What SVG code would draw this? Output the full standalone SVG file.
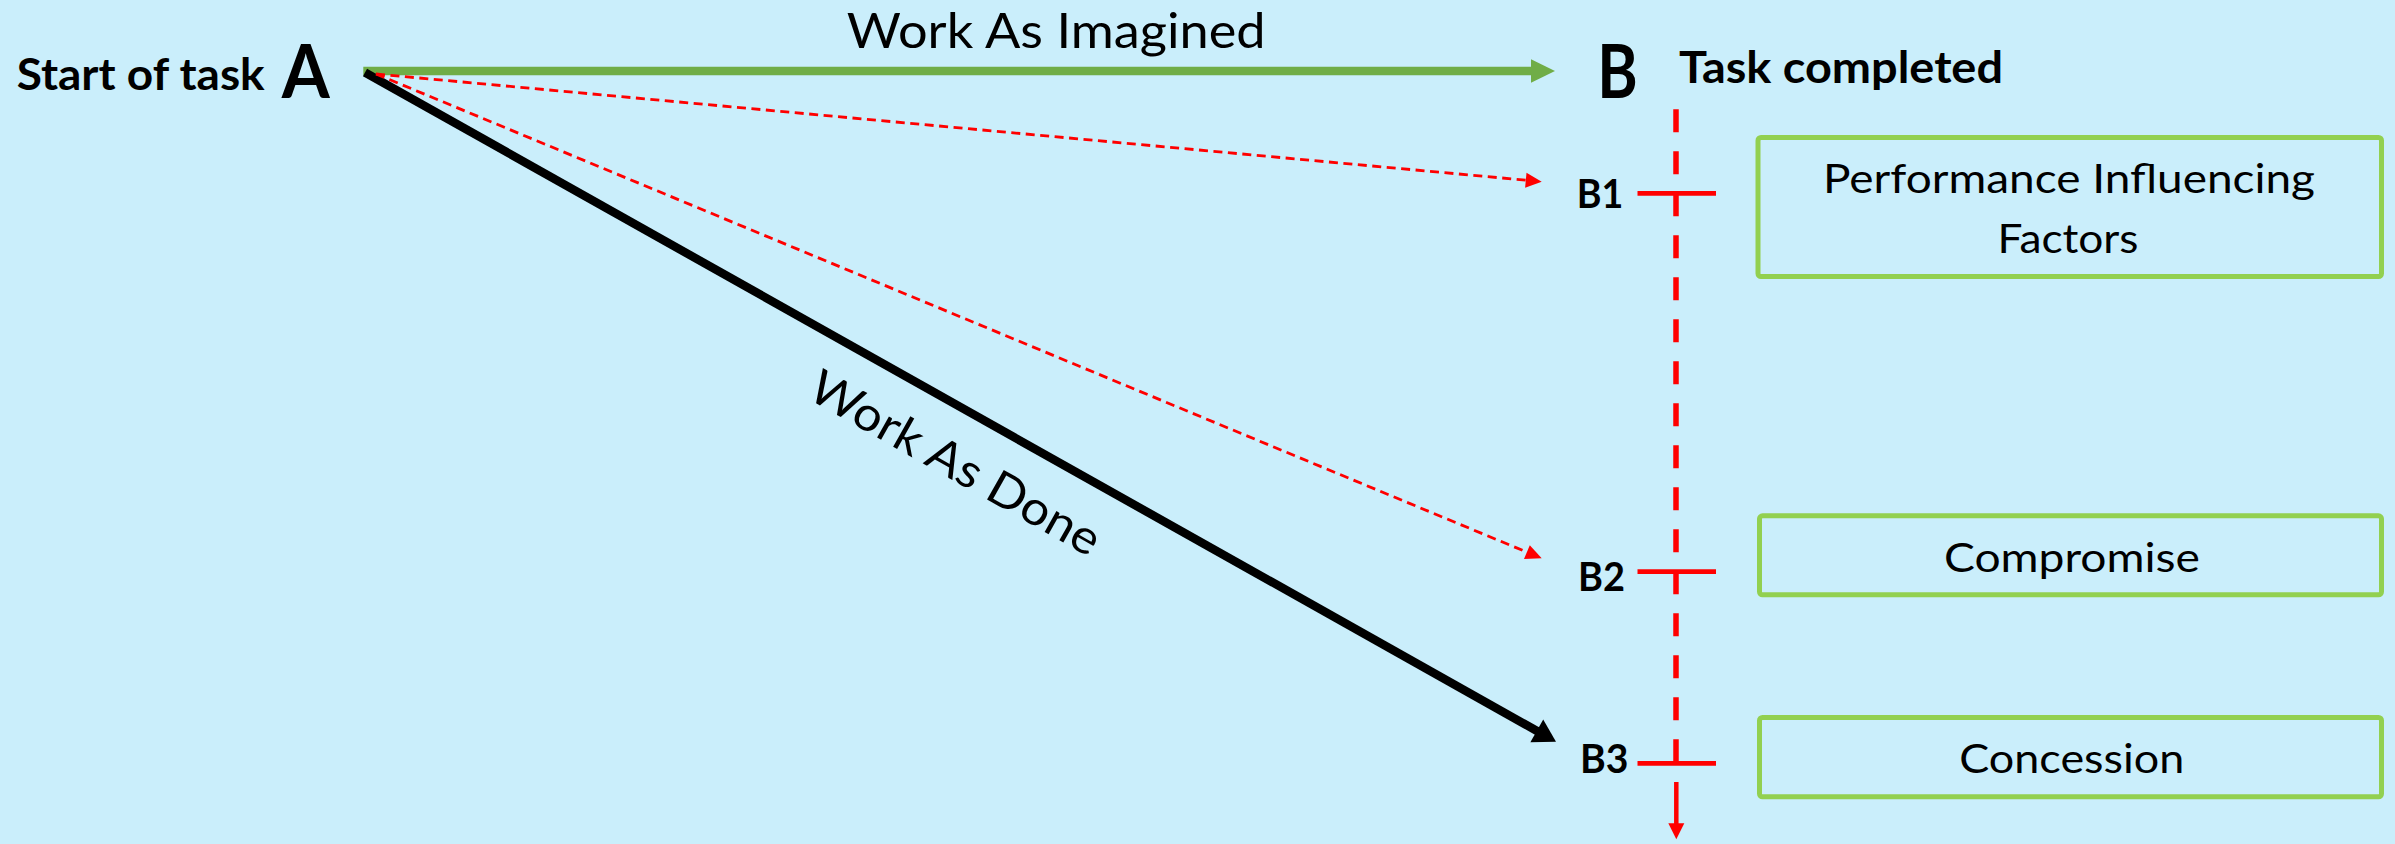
<svg xmlns="http://www.w3.org/2000/svg" width="2395" height="844" viewBox="0 0 2395 844">
  <style>
    .t { font-family: Lato, "Open Sans", "Liberation Sans", sans-serif; fill: #000; }
    .b { font-weight: bold; }
    .box { fill: none; stroke: #92D050; stroke-width: 5; }
    .red { stroke: #FF0000; fill: none; }
    .redf { fill: #FF0000; }
  </style>
  <rect x="0" y="0" width="2395" height="844" fill="#CAEEFB"/>

  <g id="connectors">
    <!-- Work As Imagined (green) -->
    <line x1="363.3" y1="71" x2="1532" y2="71" stroke="#70AD47" stroke-width="8.3"/>
    <polygon points="1531,59.3 1555,71 1531,82.7" fill="#70AD47"/>
    <!-- Work As Done (black) -->
    <line x1="365" y1="72.5" x2="1537.5" y2="731.3" stroke="#000" stroke-width="8.5"/>
    <polygon points="1556,741.7 1530.4,742.2 1543.2,719.6" fill="#000"/>
    <!-- red dashed to B1 -->
    <line class="red" x1="376" y1="74" x2="1526" y2="180.2" stroke-width="2.8" stroke-dasharray="9 5.5"/>
    <polygon class="redf" points="1541.7,181.7 1525.1,187.7 1526.5,172.7"/>
    <!-- red dashed to B2 -->
    <line class="red" x1="376" y1="74" x2="1527" y2="552.2" stroke-width="2.8" stroke-dasharray="9 5.5"/>
    <polygon class="redf" points="1541.7,558.3 1524,559.1 1529.8,545.3"/>
    <!-- vertical timeline -->
    <line class="red" x1="1676" y1="109.3" x2="1676" y2="763.3" stroke-width="5.5" stroke-dasharray="23 19"/>
    <line class="red" x1="1676.3" y1="782" x2="1676.3" y2="824" stroke-width="4.5"/>
    <polygon class="redf" points="1668.3,823.3 1684.3,823.3 1676.3,839.3"/>
    <!-- ticks -->
    <line class="red" x1="1637.5" y1="193.3" x2="1716" y2="193.3" stroke-width="4.7"/>
    <line class="red" x1="1637.5" y1="571.7" x2="1716" y2="571.7" stroke-width="4.7"/>
    <line class="red" x1="1637.5" y1="763.3" x2="1716" y2="763.3" stroke-width="4.7"/>
    <!-- connector labels -->
    <text class="t" x="846.7" y="47.7" font-size="47.5" textLength="419" lengthAdjust="spacingAndGlyphs">Work As Imagined</text>
    <text class="t" x="947.5" y="477.3" font-size="47.5" text-anchor="middle" textLength="326" lengthAdjust="spacingAndGlyphs" transform="rotate(29.4 947.5 477.3)">Work As Done</text>
  </g>

  <g id="nodeA">
    <text class="t b" x="16.7" y="90" font-size="44" textLength="248" lengthAdjust="spacingAndGlyphs">Start of task</text>
    <text class="t b" x="281.7" y="98.3" font-size="74" textLength="48" lengthAdjust="spacingAndGlyphs">A</text>
  </g>

  <g id="nodeB">
    <text class="t b" x="1597.3" y="98" font-size="74" textLength="40.5" lengthAdjust="spacingAndGlyphs">B</text>
    <text class="t b" x="1679" y="83.3" font-size="43" textLength="324" lengthAdjust="spacingAndGlyphs">Task completed</text>
  </g>

  <g id="nodeB1">
    <text class="t b" x="1576.7" y="208.3" font-size="40.5" textLength="46.6" lengthAdjust="spacingAndGlyphs">B1</text>
  </g>
  <g id="nodeB2">
    <text class="t b" x="1578" y="590.7" font-size="40.5" textLength="47" lengthAdjust="spacingAndGlyphs">B2</text>
  </g>
  <g id="nodeB3">
    <text class="t b" x="1580" y="773.3" font-size="40.5" textLength="48.5" lengthAdjust="spacingAndGlyphs">B3</text>
  </g>

  <g id="pif">
    <rect class="box" x="1758" y="137.5" width="623.5" height="139" rx="3"/>
    <text class="t" x="2069" y="193.3" font-size="40.5" text-anchor="middle" textLength="492" lengthAdjust="spacingAndGlyphs">Performance Influencing</text>
    <text class="t" x="2068" y="252.7" font-size="40.5" text-anchor="middle" textLength="141" lengthAdjust="spacingAndGlyphs">Factors</text>
  </g>

  <g id="compromise">
    <rect class="box" x="1759.5" y="515.8" width="622" height="79" rx="3"/>
    <text class="t" x="2072" y="571.7" font-size="41.5" text-anchor="middle" textLength="256" lengthAdjust="spacingAndGlyphs">Compromise</text>
  </g>

  <g id="concession">
    <rect class="box" x="1759.5" y="717.5" width="622" height="79.3" rx="3"/>
    <text class="t" x="2071.8" y="773.3" font-size="41.5" text-anchor="middle" textLength="225" lengthAdjust="spacingAndGlyphs">Concession</text>
  </g>
</svg>
